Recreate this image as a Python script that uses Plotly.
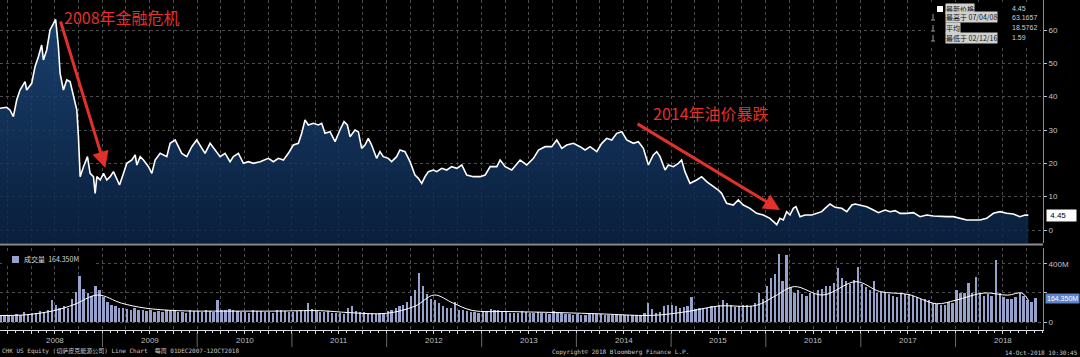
import pandas as pd
import plotly.graph_objects as go

# ---------------- data ----------------
# price readings: decimal year, close (USD)
PRICE_T = [
    2007.921, 2007.991, 2008.026, 2008.062, 2008.097, 2008.132, 2008.185, 2008.202, 2008.255, 2008.290,
    2008.325, 2008.360, 2008.378, 2008.413, 2008.448, 2008.483, 2008.507, 2008.536, 2008.554, 2008.589,
    2008.624, 2008.659, 2008.694, 2008.730, 2008.747, 2008.765, 2008.800, 2008.842, 2008.870, 2008.905,
    2008.923, 2008.941, 2008.976, 2009.011, 2009.046, 2009.081, 2009.116, 2009.152, 2009.180, 2009.222,
    2009.257, 2009.310, 2009.345, 2009.363, 2009.398, 2009.433, 2009.486, 2009.521, 2009.556, 2009.609,
    2009.644, 2009.679, 2009.714, 2009.767, 2009.802, 2009.837, 2009.890, 2009.943, 2009.995, 2010.031,
    2010.083, 2010.136, 2010.189, 2010.242, 2010.294, 2010.347, 2010.382, 2010.435, 2010.488, 2010.540,
    2010.593, 2010.664, 2010.751, 2010.804, 2010.857, 2010.910, 2010.962, 2011.015, 2011.068, 2011.103,
    2011.138, 2011.173, 2011.226, 2011.279, 2011.314, 2011.349, 2011.402, 2011.455, 2011.507, 2011.550,
    2011.585, 2011.613, 2011.666, 2011.701, 2011.736, 2011.771, 2011.806, 2011.841, 2011.894, 2011.929,
    2011.964, 2012.017, 2012.052, 2012.105, 2012.140, 2012.193, 2012.246, 2012.298, 2012.334, 2012.369,
    2012.404, 2012.439, 2012.492, 2012.527, 2012.580, 2012.632, 2012.685, 2012.738, 2012.791, 2012.843,
    2012.914, 2012.984, 2013.037, 2013.090, 2013.160, 2013.195, 2013.248, 2013.318, 2013.406, 2013.476,
    2013.547, 2013.600, 2013.670, 2013.740, 2013.793, 2013.846, 2013.898, 2013.969, 2014.039, 2014.092,
    2014.145, 2014.215, 2014.268, 2014.320, 2014.373, 2014.426, 2014.479, 2014.531, 2014.602, 2014.654,
    2014.707, 2014.760, 2014.812, 2014.848, 2014.883, 2014.936, 2014.971, 2015.024, 2015.076, 2015.111,
    2015.146, 2015.199, 2015.270, 2015.322, 2015.375, 2015.428, 2015.498, 2015.533, 2015.586, 2015.656,
    2015.709, 2015.762, 2015.832, 2015.902, 2015.973, 2016.043, 2016.115, 2016.148, 2016.184, 2016.219,
    2016.254, 2016.289, 2016.317, 2016.360, 2016.412, 2016.483, 2016.535, 2016.588, 2016.623, 2016.676,
    2016.729, 2016.799, 2016.852, 2016.905, 2016.940, 2016.993, 2017.063, 2017.133, 2017.186, 2017.256,
    2017.309, 2017.362, 2017.414, 2017.485, 2017.555, 2017.625, 2017.696, 2017.766, 2017.836, 2017.907,
    2017.977, 2018.047, 2018.118, 2018.188, 2018.258, 2018.329, 2018.399, 2018.469, 2018.540, 2018.610,
    2018.680, 2018.733, 2018.768,
]
PRICE_V = [
    36.5, 36.8, 36.0, 34.0, 39.0, 42.0, 44.5, 42.0, 44.0, 49.0,
    52.0, 55.5, 51.0, 54.0, 60.0, 62.0, 63.17, 55.0, 47.0, 42.0,
    45.0, 44.5, 40.0, 36.0, 28.0, 16.0, 19.0, 22.0, 17.0, 16.0,
    11.0, 16.0, 15.0, 17.0, 15.0, 16.0, 17.5, 15.0, 13.5, 17.0,
    20.0, 21.0, 22.5, 19.5, 22.0, 21.0, 19.0, 17.0, 21.0, 23.0,
    22.5, 22.0, 26.0, 27.0, 25.0, 23.0, 22.0, 25.0, 27.0, 25.5,
    23.0, 26.0, 24.0, 22.0, 23.0, 20.5, 22.0, 23.0, 20.0, 20.5,
    20.0, 20.5, 21.5, 20.5, 21.5, 21.0, 23.0, 25.5, 26.0, 29.0,
    33.0, 31.5, 32.0, 31.5, 32.0, 29.0, 29.5, 26.5, 30.0, 32.5,
    31.5, 28.0, 30.0, 29.5, 24.5, 25.5, 27.5, 25.5, 21.5, 23.5,
    22.0, 21.5, 20.5, 22.0, 24.0, 23.5, 20.5, 16.5, 15.5, 14.0,
    16.0, 17.5, 18.0, 17.5, 18.5, 18.0, 19.0, 18.5, 19.5, 16.5,
    16.0, 16.0, 16.5, 19.0, 19.0, 21.0, 19.0, 18.0, 21.0, 19.5,
    21.5, 24.0, 25.0, 25.0, 27.0, 24.5, 25.5, 26.0, 25.0, 24.0,
    25.0, 23.5, 26.0, 27.5, 27.0, 29.0, 29.5, 27.0, 26.0, 26.5,
    24.5, 19.5, 22.5, 23.5, 22.0, 18.0, 19.5, 19.0, 20.0, 21.0,
    17.5, 14.0, 15.0, 16.0, 14.5, 13.5, 12.0, 11.0, 8.0, 7.5,
    9.0, 7.5, 6.5, 5.0, 4.5, 3.5, 1.59, 3.5, 3.0, 5.5,
    4.5, 6.5, 7.0, 4.0, 4.5, 4.5, 5.0, 5.5, 6.5, 7.8,
    6.8, 6.5, 5.5, 7.5, 7.8, 7.5, 7.0, 6.0, 5.2, 6.0,
    5.5, 5.8, 5.0, 5.0, 5.2, 4.0, 4.5, 4.2, 4.0, 4.0,
    4.0, 3.5, 3.0, 3.0, 3.0, 3.5, 5.0, 5.5, 5.0, 4.8,
    4.0, 4.5, 4.45,
]

# half-monthly volume (millions of shares), Dec-2007 .. first half of Oct-2018
VOL_START = "2007-12-01"
VOLUME_M = [
    40, 45,
    50, 42, 55, 48, 70, 52, 60, 65, 75, 70, 85, 150, 120, 95, 110, 100, 160, 210, 317, 230, 200, 180, 250, 220,
    170, 140, 120, 110, 100, 95, 90, 85, 95, 80, 85, 75, 80, 70, 75, 70, 85, 80, 75, 70, 70, 65, 80, 75,
    75, 70, 80, 75, 70, 150, 85, 80, 90, 85, 75, 70, 70, 65, 80, 75, 75, 70, 70, 65, 85, 80, 75, 70,
    70, 75, 80, 85, 130, 90, 75, 70, 70, 75, 65, 60, 60, 55, 95, 110, 75, 70, 70, 65, 60, 55, 65, 60,
    75, 80, 100, 110, 120, 140, 180, 220, 340, 250, 190, 160, 150, 130, 110, 100, 100, 140, 85, 80, 75, 70, 70, 65,
    70, 75, 90, 85, 80, 75, 70, 65, 60, 65, 75, 70, 65, 60, 70, 65, 60, 55, 75, 70, 60, 55, 55, 50,
    55, 50, 50, 55, 60, 55, 55, 50, 45, 50, 50, 45, 45, 50, 50, 45, 45, 60, 130, 90, 60, 70, 110, 120,
    120, 110, 100, 105, 110, 170, 90, 100, 100, 95, 110, 105, 120, 150, 130, 120, 105, 110, 120, 115, 110, 130, 200, 160,
    250, 300, 330, 470, 280, 460, 240, 200, 220, 190, 180, 200, 200, 220, 230, 250, 250, 270, 370, 300, 280, 260, 290, 380,
    260, 240, 220, 280, 200, 210, 210, 190, 180, 170, 200, 190, 190, 180, 170, 160, 160, 150, 130, 125, 120, 115, 140, 130,
    220, 200, 200, 270, 200, 310, 200, 180, 190, 180, 427, 200, 170, 160, 160, 170, 200, 180, 150, 140, 164,
]

# moving-average line of volume (decimal year, millions)
MA_T = [2007.92, 2008.2, 2008.5, 2008.7, 2008.95, 2009.2, 2009.45, 2009.8, 2010.3, 2010.8,
        2011.3, 2011.6, 2012.0, 2012.3, 2012.5, 2012.7, 2012.9, 2013.3, 2013.8, 2014.3,
        2014.7, 2014.9, 2015.2, 2015.5, 2015.9, 2016.1, 2016.3, 2016.6, 2016.95, 2017.2,
        2017.5, 2017.8, 2018.0, 2018.3, 2018.55, 2018.7, 2018.77]
MA_V = [45, 50, 80, 120, 186, 130, 96, 78, 75, 75,
        78, 65, 60, 110, 186, 130, 80, 72, 65, 55,
        45, 50, 75, 110, 115, 180, 244, 186, 278, 210,
        190, 126, 150, 200, 185, 200, 150]

YEARS = list(range(2008, 2019))
PRICE_TICKS = [0, 10, 20, 30, 40, 50, 60]
VOL_TICKS = [0, 200, 400]
VOL_TICK_TEXT = ["0", "", "400M"]

LEGEND_LABELS = ["最新价格", "最高于 07/04/08", "平均", "最低于 02/12/16"]
LEGEND_VALUES = ["4.45", "63.1657", "18.5762", "1.59"]
LAST_PRICE = 4.45
LAST_VOLUME = 164.35


def dy(t):
    y = int(t)
    s = pd.Timestamp(year=y, month=1, day=1)
    e = pd.Timestamp(year=y + 1, month=1, day=1)
    return s + (e - s) * (t - y)


price_x = [dy(t) for t in PRICE_T]
ma_x = [dy(t) for t in MA_T]
months = pd.date_range(VOL_START, periods=(len(VOLUME_M) + 1) // 2, freq="MS")
vol_x = []
for m in months:
    vol_x += [m + pd.Timedelta(days=4), m + pd.Timedelta(days=19)]
vol_x = vol_x[:len(VOLUME_M)]

# ---------------- layout geometry ----------------
W, H = 1080, 357
ML, MR, MT, MB = 0, 37, 0, 27
PW, PH = W - ML - MR, H - MT - MB


def px(x):
    return (x - ML) / PW


def py(y):
    return (H - MB - y) / PH


P_MIN, P_MAX = -3.9, 69.0
V_MIN, V_MAX = -55, 510
X_RANGE = [dy(2007.921), dy(2018.923)]

CJK = "Noto Sans CJK SC"
GRID = "#4d4d4d"

fig = go.Figure()

# baseline for the area fill (bottom of the price panel)
fig.add_trace(go.Scatter(x=[X_RANGE[0], price_x[-1]], y=[P_MIN, P_MIN], mode="lines",
                         line=dict(width=0, color="rgba(0,0,0,0)"), hoverinfo="skip",
                         showlegend=False, xaxis="x", yaxis="y"))
fig.add_trace(go.Scatter(x=price_x, y=PRICE_V, mode="lines",
                         line=dict(color="white", width=1.6), fill="tonexty",
                         fillgradient=dict(type="vertical", start=P_MIN, stop=60,
                                           colorscale=[[0, "rgba(11,36,70,0.85)"],
                                                       [1, "rgba(28,72,124,0.85)"]]),
                         showlegend=False, xaxis="x", yaxis="y"))

fig.add_trace(go.Bar(x=vol_x, y=VOLUME_M, width=9 * 86400000,
                     marker=dict(color="#96a2cc", line=dict(width=0)),
                     showlegend=False, xaxis="x", yaxis="y2"))
fig.add_trace(go.Scatter(x=ma_x, y=MA_V, mode="lines", line=dict(color="white", width=1),
                         line_shape="spline", showlegend=False, xaxis="x", yaxis="y2"))

axis_font = dict(family="Liberation Sans, Arial", size=8, color="#c4c4c4")

fig.update_layout(
    width=W, height=H, margin=dict(l=ML, r=MR, t=MT, b=MB),
    paper_bgcolor="#000000", plot_bgcolor="#000000",
    showlegend=False, bargap=0,
    xaxis=dict(type="date", range=X_RANGE, anchor="y2", domain=[0, 1],
               showgrid=True, gridcolor=GRID, griddash="dot", gridwidth=1,
               dtick="M3", tick0="2008-01-01",
               showticklabels=False, ticks="outside", ticklen=3, tickcolor="#d8d8d8",
               minor=dict(dtick="M1", ticks="outside", ticklen=2, tickcolor="#d8d8d8", showgrid=False),
               showline=True, linecolor="#e0e0e0", linewidth=1, zeroline=False),
    yaxis=dict(domain=[py(243), 1], range=[P_MIN, P_MAX], side="right", anchor="x",
               tickvals=PRICE_TICKS, showgrid=True, gridcolor=GRID, griddash="dot",
               zeroline=False, showline=True, linecolor="#8a8a8a",
               ticks="outside", ticklen=3, tickcolor="#c4c4c4", tickfont=axis_font),
    yaxis2=dict(domain=[0, py(248)], range=[V_MIN, V_MAX], side="right", anchor="x",
                tickvals=VOL_TICKS, ticktext=VOL_TICK_TEXT, showgrid=True, gridcolor=GRID,
                griddash="dot", zeroline=False, showline=True, linecolor="#8a8a8a",
                ticks="outside", ticklen=3, tickcolor="#c4c4c4", tickfont=axis_font),
)

shapes = []
# separator between panels
shapes.append(dict(type="line", xref="paper", yref="paper", x0=0, x1=1, y0=py(244.5), y1=py(244.5),
                   line=dict(color="#8c8c8c", width=2)))
# year separators under the time axis
for yr in YEARS[1:]:
    shapes.append(dict(type="line", xref="x", yref="paper", x0=pd.Timestamp(year=yr, month=1, day=1),
                       x1=pd.Timestamp(year=yr, month=1, day=1), y0=py(333), y1=py(347),
                       line=dict(color="#6a6a6a", width=1)))
# legend boxes
shapes.append(dict(type="rect", xref="paper", yref="paper", x0=px(925), x1=px(1040), y0=py(45), y1=py(2),
                   fillcolor="#000000", line=dict(width=0), layer="above"))
shapes.append(dict(type="rect", xref="paper", yref="paper", x0=px(2), x1=px(96), y0=py(266), y1=py(252),
                   fillcolor="#000000", line=dict(width=0), layer="above"))
shapes.append(dict(type="rect", xref="paper", yref="paper", x0=px(12), x1=px(19), y0=py(263), y1=py(256),
                   fillcolor="#96a2cc", line=dict(width=0), layer="above"))
shapes.append(dict(type="rect", xref="paper", yref="paper", x0=px(937), x1=px(943), y0=py(12), y1=py(6),
                   fillcolor="#ffffff", line=dict(width=0), layer="above"))
for ry in [17, 28, 38]:
    shapes.append(dict(type="line", xref="paper", yref="paper", x0=px(933), x1=px(933), y0=py(ry + 3),
                       y1=py(ry - 3), line=dict(color="#9a9a9a", width=1), layer="above"))
    shapes.append(dict(type="line", xref="paper", yref="paper", x0=px(931), x1=px(935), y0=py(ry + 3),
                       y1=py(ry + 3), line=dict(color="#9a9a9a", width=1), layer="above"))
fig.update_layout(shapes=shapes)

ann = []
for yr in YEARS:
    ann.append(dict(x=dy(yr + 0.5), y=py(340), xref="x", yref="paper", text=str(yr), showarrow=False,
                    font=dict(family="Liberation Sans, Arial", size=8, color="#bdbdbd"),
                    xanchor="center", yanchor="middle"))

legend_rows = [9, 17, 28, 38]
for lab, val, ry in zip(LEGEND_LABELS, LEGEND_VALUES, legend_rows):
    ann.append(dict(x=px(945), y=py(ry), xref="paper", yref="paper", text=lab, showarrow=False,
                    font=dict(family=CJK, size=7, color="#111111"), bgcolor="#d0d0d0",
                    borderpad=0, xanchor="left", yanchor="middle"))
    ann.append(dict(x=px(1010), y=py(ry), xref="paper", yref="paper", text=val, showarrow=False,
                    font=dict(family="Liberation Sans, Arial", size=7, color="#d0d0d0"),
                    xanchor="left", yanchor="middle"))

# volume legend
ann.append(dict(x=px(22), y=py(259), xref="paper", yref="paper", text="成交量  164.350M", showarrow=False,
                font=dict(family=CJK, size=7, color="#d8d8d8"), xanchor="left", yanchor="middle"))

# last-value labels on the right axis
ann.append(dict(x=1, y=LAST_PRICE, xref="paper", yref="y", text=" 4.45    ", showarrow=False,
                font=dict(family="Liberation Sans, Arial", size=8, color="#000000"), bgcolor="#ffffff",
                xanchor="left", yanchor="middle", xshift=3, borderpad=1))
ann.append(dict(x=1, y=LAST_VOLUME, xref="paper", yref="y2", text="164.350M", showarrow=False,
                font=dict(family="Liberation Sans, Arial", size=7, color="#ffffff"), bgcolor="#5f84cc",
                xanchor="left", yanchor="middle", xshift=2, borderpad=1))

# red call-outs
RED = "#e2302a"
ann.append(dict(x=dy(2009.03), y=18.6, ax=dy(2008.554), ay=63.0, xref="x", yref="y", axref="x", ayref="y",
                text="", showarrow=True, arrowcolor=RED, arrowwidth=3, arrowhead=2, arrowsize=1.1))
ann.append(dict(x=dy(2016.15), y=6.0, ax=dy(2014.63), ay=32.1, xref="x", yref="y", axref="x", ayref="y",
                text="", showarrow=True, arrowcolor=RED, arrowwidth=3, arrowhead=2, arrowsize=1.1))
ann.append(dict(x=dy(2008.575), y=64.0, xref="x", yref="y", text="2008年金融危机", showarrow=False,
                font=dict(family=CJK, size=16, color=RED), xanchor="left", yanchor="middle"))
ann.append(dict(x=dy(2014.79), y=35.1, xref="x", yref="y", text="2014年油价暴跌", showarrow=False,
                font=dict(family=CJK, size=16, color=RED), xanchor="left", yanchor="middle"))

# footer
foot = dict(family="DejaVu Sans Mono, " + CJK, size=6, color="#c8c8c8")
ann.append(dict(x=px(0), y=py(351), xref="paper", yref="paper",
                text="CHK US Equity (切萨皮克能源公司) Line Chart  每周 01DEC2007-12OCT2018",
                showarrow=False, font=foot, xanchor="left", yanchor="middle"))
ann.append(dict(x=px(620), y=py(352), xref="paper", yref="paper",
                text="Copyright© 2018 Bloomberg Finance L.P.", showarrow=False, font=foot,
                xanchor="center", yanchor="middle"))
ann.append(dict(x=1080 / PW, y=py(352), xref="paper", yref="paper", text="14-Oct-2018 10:30:45",
                showarrow=False, font=foot, xanchor="right", yanchor="middle"))

fig.update_layout(annotations=ann)
fig.write_html("out.html", config={"displayModeBar": False},
               post_script="document.body.style.margin='0';document.body.style.overflow='hidden';")
